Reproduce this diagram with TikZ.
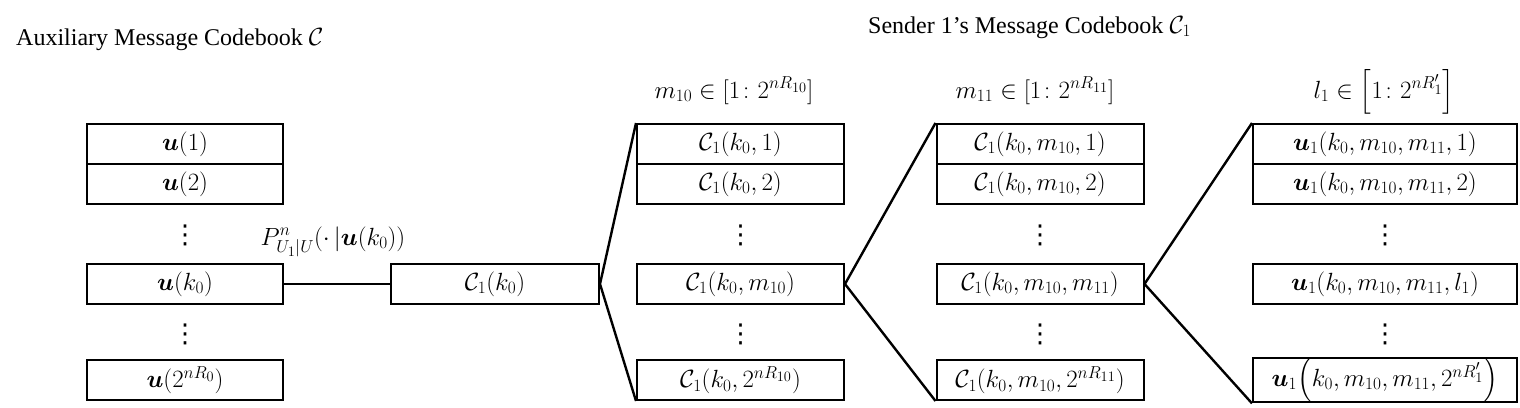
\documentclass[tikz,border=0pt]{standalone}
\usepackage{amsmath}
\usepackage{bm}
\usepackage{fontspec}
\setmainfont{Liberation Serif}
\newfontfamily\dotsfont{DejaVu Sans}
\DeclareMathSizes{24}{24}{17.5}{14.5}
\DeclareMathSizes{25}{25}{18}{15}
\newcommand{\colvdots}{{\dotsfont\fontsize{26}{26}\selectfont ⋮}}
\tikzset{
  every node/.style={font=\fontsize{24}{28}\selectfont, inner sep=0pt},
  cell/.style={draw, line width=2pt, minimum height=40pt, anchor=center, font=\fontsize{25}{28}\selectfont},
  w1/.style={cell, minimum width=196pt},
  w2/.style={cell, minimum width=207pt},
  w4/.style={cell, minimum width=264pt},
  fan/.style={line width=2.4pt},
  dotsnode/.style={anchor=center},
  title/.style={anchor=base west},
  head/.style={anchor=base}
}
\begin{document}
\begin{tikzpicture}[x=1pt,y=-1pt]
\useasboundingbox (0,0) rectangle (1520,407);
% titles
\node[title] (t1) at (16,45) {Auxiliary Message Codebook $\mathcal{C}$};
\node[title] (t2) at (868,33) {Sender 1's Message Codebook $\mathcal{C}_1$};
% column 1
\node[w1] (u1) at (185,144) {$\bm{u}(1)$};
\node[w1] (u2) at (185,184) {$\bm{u}(2)$};
\node[dotsnode] (ud1) at (185,235) {\colvdots};
\node[w1] (uk) at (185,284) {$\bm{u}(k_0)$};
\node[dotsnode] (ud2) at (185,334) {\colvdots};
\node[w1] (uN) at (185,380) {$\bm{u}(2^{nR_0})$};
% channel label
\node[head] (P) at (333,245) {$P^n_{U_1|U}(\cdot\,|\bm{u}(k_0))$};
% C1(k0)
\node[cell, minimum width=208pt] (ck) at (495,284) {$\mathcal{C}_1(k_0)$};
% column 2
\node[head] (h2) at (734,98) {$m_{10}\in[1\colon 2^{nR_{10}}]$};
\node[w2] (a1) at (740.5,144) {$\mathcal{C}_1(k_0,1)$};
\node[w2] (a2) at (740.5,184) {$\mathcal{C}_1(k_0,2)$};
\node[dotsnode] (ad1) at (740.5,235) {\colvdots};
\node[w2] (am) at (740.5,284) {$\mathcal{C}_1(k_0,m_{10})$};
\node[dotsnode] (ad2) at (740.5,334) {\colvdots};
\node[w2] (aN) at (740.5,380) {$\mathcal{C}_1(k_0,2^{nR_{10}})$};
% column 3
\node[head] (h3) at (1035,98) {$m_{11}\in[1\colon 2^{nR_{11}}]$};
\node[w2] (b1) at (1040,144) {$\mathcal{C}_1(k_0,m_{10},1)$};
\node[w2] (b2) at (1040,184) {$\mathcal{C}_1(k_0,m_{10},2)$};
\node[dotsnode] (bd1) at (1040,235) {\colvdots};
\node[w2] (bm) at (1040,284) {$\mathcal{C}_1(k_0,m_{10},m_{11})$};
\node[dotsnode] (bd2) at (1040,334) {\colvdots};
\node[w2] (bN) at (1040,380) {$\mathcal{C}_1(k_0,m_{10},2^{nR_{11}})$};
% column 4
\node[head] (h4) at (1384,98) {$l_1\in\left[1\colon 2^{nR'_1}\right]$};
\node[w4] (d1) at (1385,144) {$\bm{u}_1(k_0,m_{10},m_{11},1)$};
\node[w4] (d2) at (1385,184) {$\bm{u}_1(k_0,m_{10},m_{11},2)$};
\node[dotsnode] (dd1) at (1385,235) {\colvdots};
\node[w4] (dl) at (1385,284) {$\bm{u}_1(k_0,m_{10},m_{11},l_1)$};
\node[dotsnode] (dd2) at (1385,334) {\colvdots};
\node[w4] (dN) at (1385,380) {$\bm{u}_1\!\left(k_0,m_{10},m_{11},2^{nR'_1}\right)$};
% connectors
\draw[fan] (uk.east) -- (ck.west);
\draw[fan] (a1.north west) -- (ck.east) -- (aN.south west);
\draw[fan] (b1.north west) -- (am.east) -- (bN.south west);
\draw[fan] (d1.north west) -- (bm.east) -- (dN.south west);
\end{tikzpicture}
\end{document}
